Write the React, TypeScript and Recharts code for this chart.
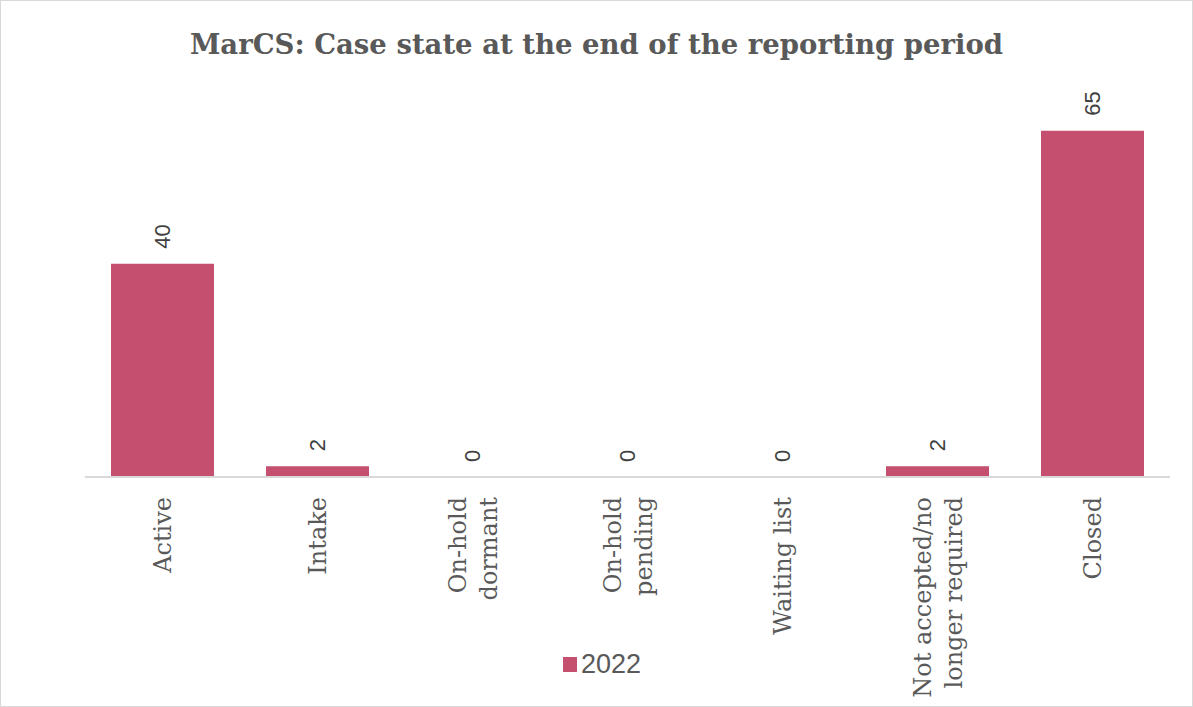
import { BarChart, Bar, XAxis, YAxis, LabelList, Legend } from 'recharts';

const categories = ['Active', 'Intake', 'On-hold dormant', 'On-hold pending', 'Waiting list', 'Not accepted/no longer required', 'Closed'];
const tickLines = [['Active'], ['Intake'], ['On-hold', 'dormant'], ['On-hold', 'pending'], ['Waiting list'], ['Not accepted/no', 'longer required'], ['Closed']];
const values2022 = [40, 2, 0, 0, 0, 2, 65];

const data = categories.map((name, i) => ({ name, v2022: values2022[i] }));

const BAR = '#C44F6F';
const GRAY = '#595959';

function CategoryTick(props: any) {
  const { x, y, index } = props;
  const lines = tickLines[index] || [];
  const lh = 31;
  const y0 = y + 12;
  return (
    <text
      transform={`rotate(-90, ${x}, ${y0})`}
      x={x}
      y={y0}
      textAnchor="end"
      fill={GRAY}
      fontFamily="'DejaVu Serif', serif"
      fontSize={24}
    >
      {lines.map((ln: string, i: number) => (
        <tspan key={i} x={x} y={y0} dy={(i - (lines.length - 1) / 2) * lh + 8.5}>
          {ln}
        </tspan>
      ))}
    </text>
  );
}

function ValueLabel(props: any) {
  const { x, y, width, value } = props;
  const cx = x + width / 2;
  const cy = y - 15;
  return (
    <text
      transform={`rotate(-90, ${cx}, ${cy})`}
      x={cx}
      y={cy}
      dy={8}
      textAnchor="start"
      fill="#404040"
      fontFamily="'Liberation Sans', Arial, sans-serif"
      fontSize={22}
    >
      {value}
    </text>
  );
}

function LegendContent() {
  return (
    <div style={{ display: 'flex', justifyContent: 'center', alignItems: 'center', paddingLeft: 11 }}>
      <span style={{ display: 'inline-block', width: 14, height: 15, background: BAR, marginRight: 4 }} />
      <span style={{ fontFamily: "'Liberation Sans', sans-serif", fontSize: 27, color: GRAY }}>2022</span>
    </div>
  );
}

export default function App() {
  return (
    <div style={{ position: 'absolute', left: 0, top: 0, width: 1193, height: 707, background: '#fff' }}>
      <div
        style={{
          position: 'absolute',
          left: 0,
          top: 28,
          width: 1193,
          textAlign: 'center',
          fontFamily: "'DejaVu Serif', serif",
          fontWeight: 'bold',
          fontSize: 27.5,
          color: GRAY,
        }}
      >
        MarCS: Case state at the end of the reporting period
      </div>
      <BarChart width={1193} height={707} data={data} margin={{ top: 104, right: 23, left: 85, bottom: 0 }}>
        <XAxis
          dataKey="name"
          interval={0}
          height={230}
          tickLine={false}
          axisLine={{ stroke: '#D9D9D9', strokeWidth: 2 }}
          tick={<CategoryTick />}
        />
        <YAxis hide domain={[0, 70]} />
        <Legend
          layout="horizontal"
          verticalAlign="middle"
          align="center"
          wrapperStyle={{ top: 649, left: 0, width: 1193 }}
          content={<LegendContent />}
        />
        <Bar
          dataKey="v2022"
          name="2022"
          fill={BAR}
          barSize={103}
          minPointSize={(v: number) => (v === 0 ? 0.01 : 0)}
          isAnimationActive={false}
        >
          <LabelList dataKey="v2022" content={<ValueLabel />} />
        </Bar>
      </BarChart>
      <div style={{ position: 'absolute', left: 0, top: 0, width: 1193, height: 707, boxSizing: 'border-box', border: '1px solid #D9D9D9', pointerEvents: 'none' }} />
    </div>
  );
}
